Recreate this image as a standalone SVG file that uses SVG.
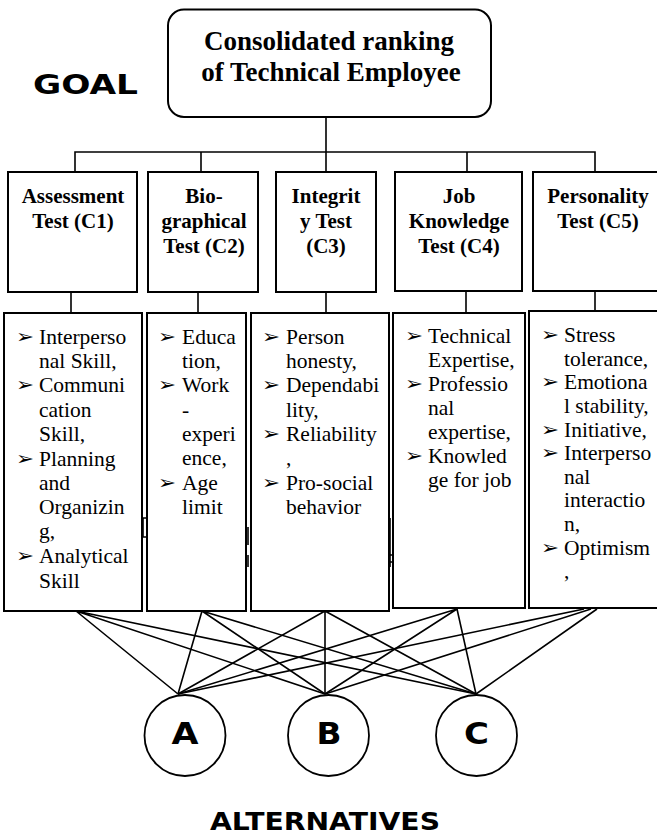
<svg xmlns="http://www.w3.org/2000/svg" width="657" height="834" viewBox="0 0 657 834">
<style>
.box{fill:#fff;stroke:#000;stroke-width:2}
.ln{stroke:#000;stroke-width:1.6;fill:none}
.goal{font-family:"Liberation Serif",serif;font-weight:bold;font-size:27px;text-anchor:middle}
.crit{font-family:"Liberation Serif",serif;font-weight:bold;font-size:21px;text-anchor:middle}
.sub{font-family:"Liberation Serif",serif;font-size:21.5px}
.bul{font-family:"DejaVu Sans",sans-serif;font-size:19px}
.cap{font-family:"DejaVu Sans",sans-serif;font-weight:bold}
.alt{fill:#fff;stroke:#000;stroke-width:1.8}
</style>
<rect width="657" height="834" fill="#fff"/>
<g id="connectors" class="ln">
  <path d="M326 117V152M75 172V152H595V172M201 152V172M326 152V172M467 152V172"/>
  <path d="M71 292V313M198 292V313M326 292V313M466 292V313M595 292V311"/>
  <path d="M76 611L178 694M76 611L325 694M76 611L476 694"/>
  <path d="M202 611L178 694M202 611L325 694M202 611L476 694"/>
  <path d="M325 611L178 694M325 611L325 694M325 611L476 694"/>
  <path d="M457 609L178 694M457 609L325 694M457 609L476 694"/>
  <path d="M584 609L178 694M591 609L325 694M597 609L476 694"/>
</g>
<g id="goal-label"><text class="cap" x="33" y="94" font-size="26" textLength="105" lengthAdjust="spacingAndGlyphs">GOAL</text></g>
<g id="goal">
  <rect class="box" x="168" y="9.5" width="323" height="107.5" rx="16"/>
  <text class="goal" x="329" y="50">Consolidated ranking</text>
  <text class="goal" x="331" y="81">of Technical Employee</text>
</g>
<g id="c1">
  <rect class="box" x="8" y="172" width="129" height="120"/>
  <text class="crit" x="73" y="203">Assessment</text>
  <text class="crit" x="73" y="228">Test (C1)</text>
</g>
<g id="c2">
  <rect class="box" x="148" y="172" width="110" height="120"/>
  <text class="crit" x="204" y="203">Bio-</text>
  <text class="crit" x="204" y="228">graphical</text>
  <text class="crit" x="204" y="253">Test (C2)</text>
</g>
<g id="c3">
  <rect class="box" x="276" y="172" width="100" height="120"/>
  <text class="crit" x="326" y="203">Integrit</text>
  <text class="crit" x="326" y="228">y Test</text>
  <text class="crit" x="326" y="253">(C3)</text>
</g>
<g id="c4">
  <rect class="box" x="395" y="172" width="127" height="119"/>
  <text class="crit" x="459" y="203">Job</text>
  <text class="crit" x="459" y="228">Knowledge</text>
  <text class="crit" x="459" y="253">Test (C4)</text>
</g>
<g id="c5">
  <rect class="box" x="533" y="172" width="132" height="119"/>
  <text class="crit" x="598" y="203">Personality</text>
  <text class="crit" x="598" y="228">Test (C5)</text>
</g>
<g id="s1">
  <rect class="box" x="4" y="313" width="138" height="298"/>
  <g class="bul">
    <text x="16" y="343" textLength="18" lengthAdjust="spacingAndGlyphs">➢</text>
    <text x="16" y="391" textLength="18" lengthAdjust="spacingAndGlyphs">➢</text>
    <text x="16" y="465" textLength="18" lengthAdjust="spacingAndGlyphs">➢</text>
    <text x="16" y="562" textLength="18" lengthAdjust="spacingAndGlyphs">➢</text>
  </g>
  <g class="sub">
    <text x="39" y="344">Interperso</text><text x="39" y="368">nal Skill,</text>
    <text x="39" y="392">Communi</text><text x="39" y="417">cation</text><text x="39" y="441">Skill,</text>
    <text x="39" y="466">Planning</text><text x="39" y="490">and</text><text x="39" y="514">Organizin</text><text x="39" y="538">g,</text>
    <text x="39" y="563">Analytical</text><text x="39" y="588">Skill</text>
  </g>
</g>
<g id="s2">
  <rect class="box" x="147" y="313" width="99" height="298"/>
  <g class="bul">
    <text x="158" y="343" textLength="18" lengthAdjust="spacingAndGlyphs">➢</text>
    <text x="158" y="391" textLength="18" lengthAdjust="spacingAndGlyphs">➢</text>
    <text x="158" y="489" textLength="18" lengthAdjust="spacingAndGlyphs">➢</text>
  </g>
  <g class="sub">
    <text x="182" y="344">Educa</text><text x="182" y="368">tion,</text>
    <text x="182" y="392">Work</text><text x="182" y="417">-</text><text x="182" y="441">experi</text><text x="182" y="465">ence,</text>
    <text x="182" y="490">Age</text><text x="182" y="514">limit</text>
  </g>
</g>
<g id="s3">
  <rect class="box" x="251" y="313" width="138" height="298"/>
  <g class="bul">
    <text x="262" y="343" textLength="18" lengthAdjust="spacingAndGlyphs">➢</text>
    <text x="262" y="391" textLength="18" lengthAdjust="spacingAndGlyphs">➢</text>
    <text x="262" y="440" textLength="18" lengthAdjust="spacingAndGlyphs">➢</text>
    <text x="262" y="489" textLength="18" lengthAdjust="spacingAndGlyphs">➢</text>
  </g>
  <g class="sub">
    <text x="286" y="344">Person</text><text x="286" y="368">honesty,</text>
    <text x="286" y="392">Dependabi</text><text x="286" y="417">lity,</text>
    <text x="286" y="441">Reliability</text><text x="286" y="465">,</text>
    <text x="286" y="490">Pro-social</text><text x="286" y="514">behavior</text>
  </g>
</g>
<g id="s4">
  <rect class="box" x="393" y="313" width="132" height="295"/>
  <g class="bul">
    <text x="405" y="342" textLength="18" lengthAdjust="spacingAndGlyphs">➢</text>
    <text x="405" y="390" textLength="18" lengthAdjust="spacingAndGlyphs">➢</text>
    <text x="405" y="462" textLength="18" lengthAdjust="spacingAndGlyphs">➢</text>
  </g>
  <g class="sub">
    <text x="428" y="343">Technical</text><text x="428" y="367">Expertise,</text>
    <text x="428" y="391">Professio</text><text x="428" y="415">nal</text><text x="428" y="439">expertise,</text>
    <text x="428" y="463">Knowled</text><text x="428" y="487">ge for job</text>
  </g>
</g>
<g id="s5">
  <rect class="box" x="529" y="311" width="136" height="297"/>
  <g class="bul">
    <text x="541" y="341" textLength="18" lengthAdjust="spacingAndGlyphs">➢</text>
    <text x="541" y="388" textLength="18" lengthAdjust="spacingAndGlyphs">➢</text>
    <text x="541" y="436" textLength="18" lengthAdjust="spacingAndGlyphs">➢</text>
    <text x="541" y="459" textLength="18" lengthAdjust="spacingAndGlyphs">➢</text>
    <text x="541" y="554" textLength="18" lengthAdjust="spacingAndGlyphs">➢</text>
  </g>
  <g class="sub">
    <text x="564" y="342">Stress</text><text x="564" y="366">tolerance,</text>
    <text x="564" y="389">Emotiona</text><text x="564" y="413">l stability,</text>
    <text x="564" y="437">Initiative,</text>
    <text x="564" y="460">Interperso</text><text x="564" y="484">nal</text><text x="564" y="507">interactio</text><text x="564" y="531">n,</text>
    <text x="564" y="555">Optimism</text><text x="564" y="578">,</text>
  </g>
</g>
<g id="fragments" class="ln" stroke-width="1.2">
  <path d="M146 518H143V537H146"/>
  <path d="M248 527V545M248 555V567"/>
  <path d="M390 518V567M389 555H393M389 562H393"/>
</g>
<g id="alt-a">
  <circle class="alt" cx="185" cy="735.5" r="40.5"/>
  <text class="cap" x="185" y="743.5" font-size="30" text-anchor="middle" textLength="27" lengthAdjust="spacingAndGlyphs">A</text>
</g>
<g id="alt-b">
  <circle class="alt" cx="328.5" cy="735.5" r="40.5"/>
  <text class="cap" x="329" y="743.5" font-size="30" text-anchor="middle" textLength="25" lengthAdjust="spacingAndGlyphs">B</text>
</g>
<g id="alt-c">
  <circle class="alt" cx="476.5" cy="735.5" r="40.5"/>
  <text class="cap" x="476.5" y="743.5" font-size="30" text-anchor="middle" textLength="25" lengthAdjust="spacingAndGlyphs">C</text>
</g>
<g id="alternatives-label"><text class="cap" x="210" y="829.5" font-size="25" textLength="230" lengthAdjust="spacingAndGlyphs">ALTERNATIVES</text></g>
</svg>
